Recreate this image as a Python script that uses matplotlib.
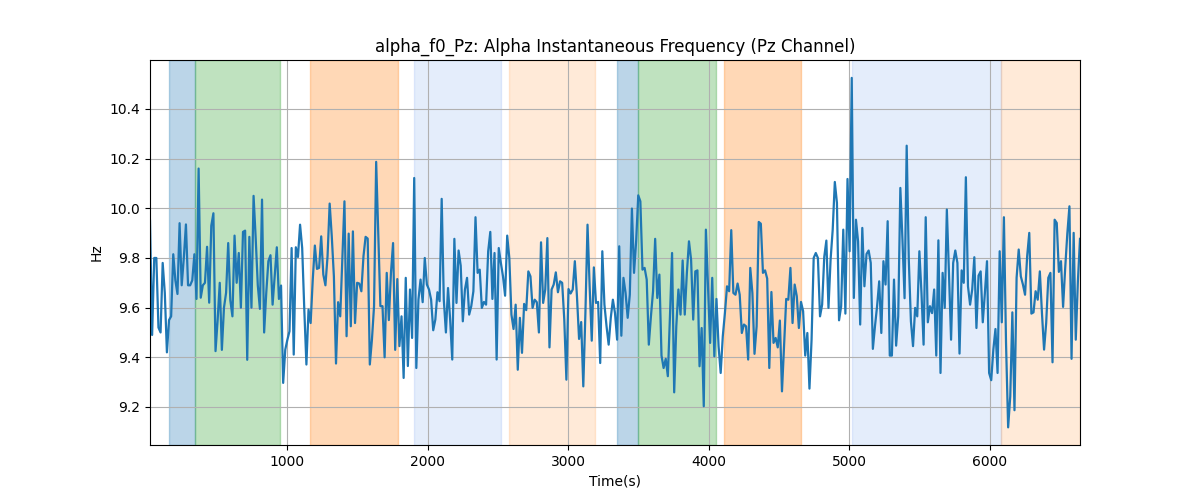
import numpy as np
import matplotlib
matplotlib.use("Agg")
import matplotlib.pyplot as plt

t_start = 24.0
t_step = 15.04

values = [
    # segment 1
    9.95, 9.49, 9.80, 9.80, 9.52, 9.50, 9.78, 9.66, 9.42, 9.55, 9.565, 9.815, 9.71, 9.655,
    9.94, 9.69, 9.80, 9.935, 9.69, 9.69, 9.71, 9.815, 9.635, 10.16, 9.64, 9.69, 9.70, 9.845,
    9.62, 9.93, 9.98, 9.425, 9.55, 9.70, 9.43, 9.60, 9.66, 9.86, 9.63, 9.565, 9.89, 9.70,
    9.82, 9.60, 9.905, 9.91, 9.39, 9.885, 9.60, 10.05, 9.88, 9.69, 9.595, 10.035, 9.50,
    # segment 2
    9.659, 9.787, 9.811, 9.612, 9.726, 9.843, 9.635, 9.689, 9.297, 9.431, 9.471, 9.505,
    9.840, 9.411, 9.843, 9.804, 9.934, 9.840, 9.592, 9.371, 9.592, 9.538, 9.713, 9.850,
    9.756, 9.760, 9.887, 9.733, 9.690, 9.807, 10.019, 9.887, 9.726, 9.375, 9.622, 9.565,
    9.793, 10.028, 9.485, 9.898, 9.525, 9.907, 9.538, 9.700, 9.697, 9.666, 9.807, 9.885,
    9.878, 9.371, 9.471, 9.606, 10.187, 9.901, 9.606, 9.606,
    # segment 3
    9.40, 9.74, 9.55, 9.74, 9.86, 9.43, 9.715, 9.445, 9.565, 9.317, 9.72, 9.365, 9.673,
    9.478, 10.122, 9.357, 9.632, 9.713, 9.622, 9.80, 9.693, 9.673, 9.632, 9.509, 9.552,
    9.662, 9.626, 10.038, 9.632, 9.50, 9.679, 9.552, 9.391, 9.877, 9.619, 9.83, 9.769,
    9.545, 9.673, 9.72, 9.572, 9.606, 9.666, 9.964, 9.74, 9.753, 9.599, 9.623, 9.612,
    9.827, 9.905, 9.635, 9.82, 9.391, 9.84,
    # segment 4
    9.78, 9.726, 9.648, 9.89, 9.80, 9.572, 9.514, 9.612, 9.35, 9.559, 9.418, 9.615, 9.59,
    9.746, 9.726, 9.599, 9.632, 9.622, 9.50, 9.863, 9.619, 9.673, 9.88, 9.44, 9.673,
    9.693, 9.742, 9.662, 9.706, 9.70, 9.552, 9.31, 9.675, 9.657, 9.673, 9.787, 9.646,
    9.474, 9.542, 9.283, 9.578, 9.934, 9.686, 9.467, 9.762, 9.619, 9.623, 9.377, 9.827,
    9.612, 9.525, 9.451, 9.559, 9.632, 9.578,
    # segment 5
    9.471, 9.847, 9.487, 9.72, 9.659, 9.559, 9.652, 9.999, 9.74, 9.867, 10.052, 10.028,
    9.753, 9.76, 9.713, 9.451, 9.565, 9.666, 9.877, 9.639, 9.733, 9.407, 9.357, 9.394,
    9.324, 9.565, 9.82, 9.259, 9.525, 9.673, 9.572, 9.79, 9.572, 9.74, 9.867, 9.793,
    9.552, 9.746, 9.75, 9.364, 9.518, 9.203, 9.914, 9.686, 9.458, 9.72, 9.404, 9.635,
    9.445, 9.337, 9.485, 9.578, 9.686, 9.666, 9.912,
    # segment 6
    9.659, 9.652, 9.697, 9.652, 9.498, 9.532, 9.525, 9.391, 9.76, 9.659, 9.414, 9.525,
    9.945, 9.938, 9.74, 9.75, 9.717, 9.357, 9.663, 9.458, 9.478, 9.44, 9.548, 9.263,
    9.451, 9.635, 9.632, 9.76, 9.538, 9.693, 9.646, 9.518, 9.623, 9.586, 9.407, 9.498,
    9.274, 9.471, 9.80, 9.82, 9.80, 9.565, 9.612, 9.804, 9.87, 9.599, 9.793, 9.914,
    10.106, 10.022, 9.549, 9.606, 9.914, 9.576, 10.118,
    # segment 7
    9.827, 10.525, 9.639, 9.954, 9.867, 9.532, 9.921, 9.686, 9.816, 9.83, 9.78, 9.434,
    9.525, 9.606, 9.706, 9.498, 9.787, 9.693, 9.948, 9.407, 9.407, 9.713, 9.447, 9.565,
    10.082, 9.874, 9.638, 10.252, 9.793, 9.545, 9.445, 9.599, 9.565, 9.827, 9.659, 9.451,
    9.964, 9.541, 9.606, 9.578, 9.673, 9.407, 9.871, 9.337, 9.74, 9.599, 9.995, 9.74,
    9.471, 9.78, 9.83, 9.78, 9.415, 9.75, 9.70,
    # segment 8
    10.125, 9.686, 9.612, 9.673, 9.803, 9.518, 9.729, 9.746, 9.541, 9.659, 9.787, 9.337,
    9.308, 9.431, 9.514, 9.337, 9.827, 9.541, 9.964, 9.458, 9.118, 9.243, 9.581, 9.187,
    9.72, 9.834, 9.726, 9.693, 9.652, 9.807, 9.901, 9.576, 9.581, 9.666, 9.632, 9.746,
    9.578, 9.431, 9.538, 9.72, 9.74, 9.38, 9.954, 9.941, 9.744, 9.787, 9.603, 9.76,
    9.898, 10.008, 9.394, 9.901, 9.471, 9.706, 9.877,
]

span_starts = [160, 343, 1164, 1905, 2581, 3350, 3493, 4105, 5017, 6081]
span_ends = [343, 948, 1788, 2519, 3191, 3493, 4051, 4658, 6081, 6641]
span_colors = ["tab:blue", "tab:green", "tab:orange", "cornflowerblue", "tab:orange",
               "tab:blue", "tab:green", "tab:orange", "cornflowerblue", "tab:orange"]
span_alphas = [0.3, 0.3, 0.3, 0.17, 0.16, 0.3, 0.3, 0.3, 0.17, 0.16]

vals = np.array(values)
times = t_start + t_step * np.arange(len(vals))

fig, ax = plt.subplots(figsize=(12, 5), dpi=100)
for s, e, c, a in zip(span_starts, span_ends, span_colors, span_alphas):
    ax.axvspan(s, e, color=c, alpha=a)
ax.plot(times, vals, color="tab:blue", linewidth=1.6)
ax.set_xlim(times[0], times[-1])
ax.set_ylim(9.047, 10.597)
ax.grid(True)
ax.set_title("alpha_f0_Pz: Alpha Instantaneous Frequency (Pz Channel)")
ax.set_xlabel("Time(s)")
ax.set_ylabel("Hz")
fig.savefig("out.png", dpi=100)
